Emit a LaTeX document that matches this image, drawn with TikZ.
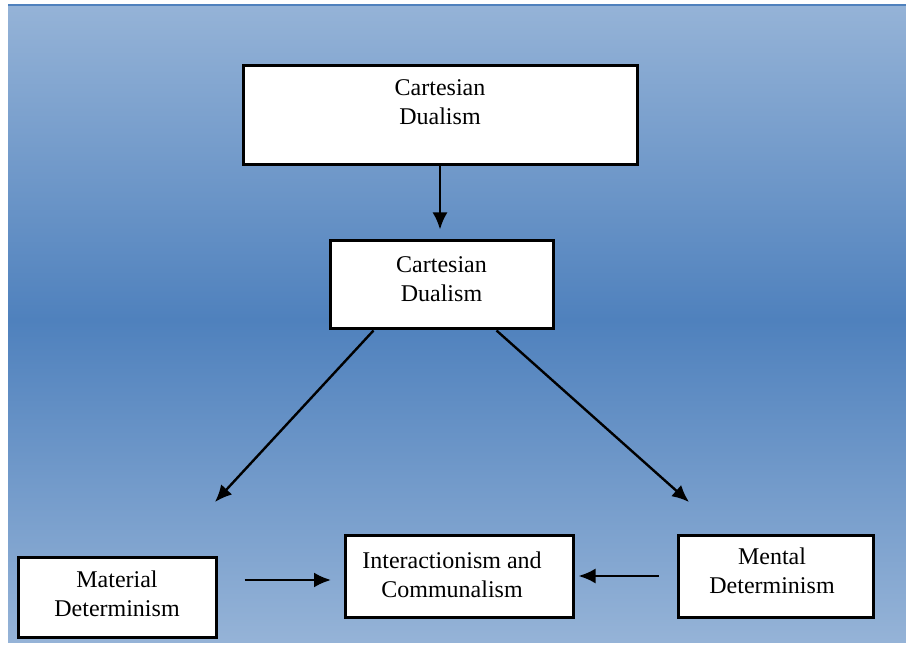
\documentclass[tikz,border=0pt]{standalone}
\usepackage{fontspec}
\setmainfont{Liberation Serif}
\usetikzlibrary{arrows.meta}
\definecolor{bgtop}{RGB}{149,179,215}
\definecolor{bgmid}{RGB}{79,129,189}
\begin{document}
\begin{tikzpicture}[x=1pt, y=-1pt,
  box/.style={draw=black, line width=3pt, fill=white, inner sep=0pt},
  lbl/.style={align=center, font=\fontsize{24}{29}\selectfont},
  arr/.style={line width=2.4pt, -{Latex[length=17pt,width=15pt]}}]

\useasboundingbox (0,0) rectangle (906,647);
\fill[white] (0,0) rectangle (906,647);

% background panel
\shade[top color=bgtop, bottom color=bgmid] (8,5) rectangle (906,320);
\shade[top color=bgmid, bottom color=bgtop] (8,320) rectangle (906,642);
\draw[bgmid, line width=2pt] (8,5) -- (906,5);

% boxes
\node[box, minimum width=394, minimum height=99] (dualA) at (440,115.5) {};
\node[box, minimum width=223, minimum height=88] (dualB) at (441.5,285) {};
\node[box, minimum width=198, minimum height=80] (matDet) at (117,597) {};
\node[box, minimum width=228, minimum height=82] (intCom) at (459,576) {};
\node[box, minimum width=195, minimum height=82] (menDet) at (775.5,576) {};

% labels
\node[lbl] (dualAtxt) at (440,102.5) {Cartesian\\Dualism};
\node[lbl] (dualBtxt) at (441.5,279) {Cartesian\\Dualism};
\node[lbl] (matDettxt) at (117,594) {Material\\Determinism};
\node[lbl] (intComtxt) at (452,575) {Interactionism and\\Communalism};
\node[lbl] (menDettxt) at (772,571) {Mental\\Determinism};

% free arrow ends
\coordinate (tipL) at (215,502);
\coordinate (tipR) at (689,502);
\coordinate (inL) at (331,580);

% arrows
\draw[arr, shorten >=10pt] (dualA.south) -- (dualA.south |- dualB.north);
\draw[arr] ([xshift=45pt]dualB.south west) -- (tipL);
\draw[arr] ([xshift=-58pt]dualB.south east) -- (tipR);
\draw[arr, shorten <=27pt] (matDet.east |- inL) -- (inL);
\draw[arr, shorten <=18pt, shorten >=4pt] (menDet.west) -- (intCom.east);

\end{tikzpicture}
\end{document}
